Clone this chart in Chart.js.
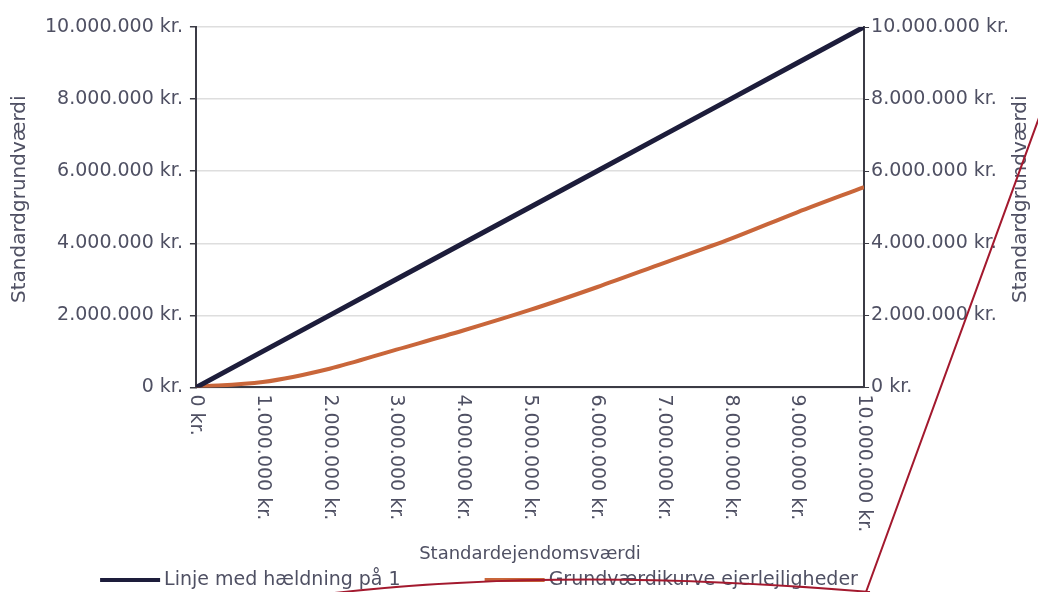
<!DOCTYPE html>
<html lang="da">
<head>
<meta charset="UTF-8">
<title>Standardgrundværdi</title>
<style>
  html, body { margin: 0; padding: 0; background: #fff; }
</style>
</head>
<body>
<canvas id="chart" width="1038" height="592"></canvas>
<script src="https://cdn.jsdelivr.net/npm/chart.js"></script>
<script>
// data (kr.)
const ejendomsvaerdi = [0, 1e6, 2e6, 3e6, 4e6, 5e6, 6e6, 7e6, 8e6, 9e6, 10e6];
const linjeHaeldning = [0, 1e6, 2e6, 3e6, 4e6, 5e6, 6e6, 7e6, 8e6, 9e6, 10e6];
const grundvaerdikurve = [0.02e6, 0.15e6, 0.52e6, 1.05e6, 1.58e6, 2.15e6, 2.78e6, 3.45e6, 4.12e6, 4.86e6, 5.56e6];
const yTicks = [0, 2e6, 4e6, 6e6, 8e6, 10e6];
const seriesNames = ['Linje med hældning på 1', 'Grundværdikurve ejerlejligheder'];
const seriesColors = ['#1d1d3b', '#c9663a'];

const FONT = 'DejaVu Sans';
const TEXT = '#4f5063';

// 10000000 -> "10.000.000 kr."
function kr(v) {
  return String(Math.round(v)).replace(/\B(?=(\d{3})+(?!\d))/g, '.') + ' kr.';
}

// extra drawing: x labels read top-down, both y titles, legend, red pen mark
const extras = {
  id: 'extras',
  afterDraw(chart) {
    const ctx = chart.ctx;
    const x = chart.scales.x, y = chart.scales.y, y2 = chart.scales.y2, area = chart.chartArea;
    ctx.save();
    ctx.fillStyle = TEXT;
    ctx.font = '19px ' + FONT;

    // x tick labels, rotated clockwise
    ejendomsvaerdi.forEach(v => {
      ctx.save();
      ctx.translate(x.getPixelForValue(v), x.top + 7);
      ctx.rotate(Math.PI / 2);
      ctx.textAlign = 'left';
      ctx.textBaseline = 'middle';
      ctx.fillText(kr(v), 0, 0);
      ctx.restore();
    });

    // y titles, both reading bottom-up
    ctx.font = '20px ' + FONT;
    const midY = (area.top + area.bottom) / 2 - 8;
    [[y.left + 14, 'Standardgrundværdi'], [y2.right - 17, 'Standardgrundværdi']].forEach(([tx, t]) => {
      ctx.save();
      ctx.translate(tx, midY);
      ctx.rotate(-Math.PI / 2);
      ctx.textAlign = 'center';
      ctx.textBaseline = 'middle';
      ctx.fillText(t, 0, 0);
      ctx.restore();
    });

    // legend
    ctx.font = '19px ' + FONT;
    const box = 60, gap = 4, itemGap = 84;
    const widths = seriesNames.map(n => ctx.measureText(n).width);
    const total = widths.reduce((a, w) => a + box + gap + w, 0) + itemGap;
    let lx = (chart.width - total) / 2 - 40;
    const ly = chart.height - 12;
    ctx.textAlign = 'left';
    ctx.textBaseline = 'middle';
    seriesNames.forEach((n, i) => {
      ctx.fillStyle = seriesColors[i];
      ctx.fillRect(lx, ly - 2, box, 4);
      ctx.fillStyle = TEXT;
      ctx.fillText(n, lx + box + gap, ly);
      lx += box + gap + widths[i] + itemGap;
    });

    // red pen stroke across the scan
    ctx.strokeStyle = '#a3192e';
    ctx.lineWidth = 2;
    ctx.beginPath();
    ctx.moveTo(1040, 115);
    ctx.lineTo(866, 592);
    ctx.moveTo(326, 594);
    ctx.quadraticCurveTo(560, 566, 870, 592);
    ctx.stroke();
    ctx.restore();
  }
};

const hiddenTitle = (pad) => ({
  display: true,
  text: 'Standardgrundværdi',
  color: 'rgba(0,0,0,0)',
  font: { family: FONT, size: 20 },
  padding: pad
});

new Chart(document.getElementById('chart'), {
  type: 'line',
  data: {
    datasets: [
      {
        label: seriesNames[0],
        data: ejendomsvaerdi.map((v, i) => ({ x: v, y: linjeHaeldning[i] })),
        borderColor: seriesColors[0],
        borderWidth: 5,
        pointRadius: 0,
        yAxisID: 'y'
      },
      {
        label: seriesNames[1],
        data: ejendomsvaerdi.map((v, i) => ({ x: v, y: grundvaerdikurve[i] })),
        borderColor: seriesColors[1],
        borderWidth: 4,
        pointRadius: 0,
        cubicInterpolationMode: 'monotone',
        yAxisID: 'y'
      }
    ]
  },
  options: {
    responsive: false,
    animation: false,
    devicePixelRatio: 1,
    layout: { padding: { left: 6, right: 0, top: 27, bottom: 27 } },
    plugins: { legend: { display: false }, tooltip: { enabled: false } },
    scales: {
      x: {
        type: 'linear',
        min: 0,
        max: 10e6,
        afterBuildTicks: s => { s.ticks = ejendomsvaerdi.map(v => ({ value: v })); },
        ticks: {
          callback: v => kr(v),
          color: 'rgba(0,0,0,0)',
          font: { family: FONT, size: 19 },
          minRotation: 90,
          maxRotation: 90,
          padding: 2
        },
        grid: { display: false },
        border: { color: '#3b3b45', width: 2 },
        title: {
          display: true,
          text: 'Standardejendomsværdi',
          color: TEXT,
          font: { family: FONT, size: 18 },
          padding: { top: 6, bottom: 0 }
        }
      },
      y: {
        position: 'left',
        min: 0,
        max: 10e6,
        afterBuildTicks: s => { s.ticks = yTicks.map(v => ({ value: v })); },
        ticks: {
          callback: v => kr(v),
          color: TEXT,
          font: { family: FONT, size: 19 },
          padding: 7
        },
        grid: { color: '#dedede', lineWidth: 1.5, tickColor: '#3b3b45', tickLength: 6 },
        border: { color: '#3b3b45', width: 2 },
        title: hiddenTitle({ top: 4, bottom: 4 })
      },
      y2: {
        position: 'right',
        min: 0,
        max: 10e6,
        afterBuildTicks: s => { s.ticks = yTicks.map(v => ({ value: v })); },
        ticks: {
          callback: v => kr(v),
          color: TEXT,
          font: { family: FONT, size: 19 },
          padding: 2
        },
        grid: { drawOnChartArea: false, tickColor: '#3b3b45', tickLength: 5 },
        border: { color: '#3b3b45', width: 2 },
        title: hiddenTitle({ top: 0, bottom: 3 })
      }
    }
  },
  plugins: [extras]
});
</script>
</body>
</html>
